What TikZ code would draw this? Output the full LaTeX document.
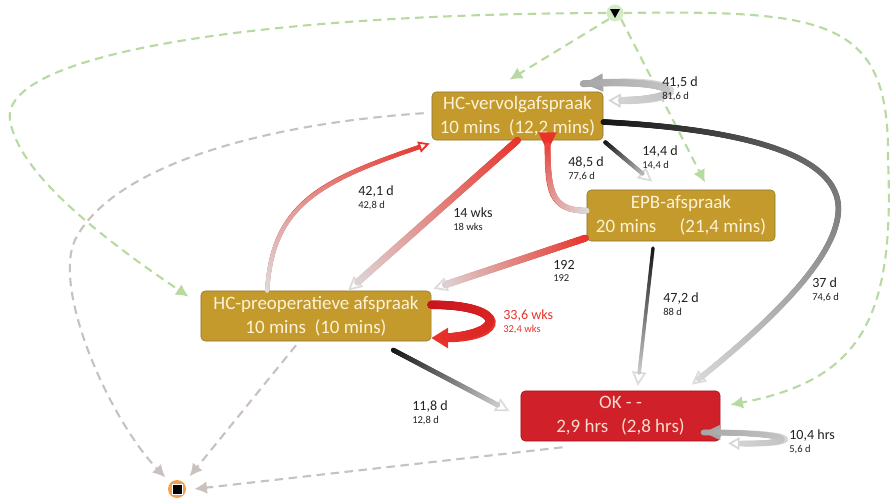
\documentclass[tikz,border=0pt]{standalone}
\usepackage{fontspec}
\setmainfont{Carlito}
\usetikzlibrary{arrows.meta,decorations.markings}
\definecolor{actgold}{HTML}{C39A2B}
\definecolor{actedge}{HTML}{8E7638}
\definecolor{acttext}{HTML}{FCF2D6}
\definecolor{okred}{HTML}{D0202A}
\definecolor{okedge}{HTML}{A0161C}
\definecolor{oktext}{HTML}{F9DCCB}
\definecolor{startgreen}{HTML}{B7DAA0}
\definecolor{startfill}{HTML}{D3EAC6}
\definecolor{endorange}{HTML}{F2A04E}
\definecolor{exitgray}{HTML}{C9C1BD}
\definecolor{flowred}{HTML}{E8332B}
\definecolor{deepred}{HTML}{C8141C}
\definecolor{flowlight}{HTML}{DCDCDC}
\definecolor{flowdark}{HTML}{151515}
\definecolor{loopdark}{HTML}{A6A6A6}
\definecolor{looplight}{HTML}{D6D6D6}
\definecolor{labelink}{HTML}{222222}
\newcommand{\flowsub}[1]{{\fontsize{7.5}{9}\selectfont #1}}
\tikzset{
  activity/.style={draw=actedge, fill=actgold, rounded corners=3pt, text=acttext,
    align=center, inner sep=0pt, font=\fontsize{13.5}{17}\selectfont},
  flow/.style n args={3}{line width=#1, draw=#3,
    postaction={decorate, decoration={markings,
      mark=between positions 0 and -9pt step 0.5pt with {
        \pgfmathsetmacro{\mixpct}{100*(1-(\pgfkeysvalueof{/pgf/decoration/mark info/distance from start})/(\pgfdecoratedpathlength))}
        \fill[#2!\mixpct!#3] (0,0) circle (#1/2);}}}},
  opentip/.style={-{Triangle[open, length=10pt, width=10pt, line width=1.3pt]}},
  startflow/.style={draw=startgreen, line width=1.5pt, dash pattern=on 6pt off 4pt,
    -{Latex[length=9pt, width=9pt]}},
  exitflow/.style={draw=exitgray, line width=1.5pt, dash pattern=on 6pt off 4pt,
    -{Latex[length=9pt, width=9pt]}},
  flowlabel/.style={anchor=west, align=left, inner sep=0pt, text=labelink,
    font=\fontsize{10}{10}\selectfont}
}
\begin{document}
\begin{tikzpicture}[x=0.025cm, y=-0.025cm]
  \useasboundingbox (0,0) rectangle (896,500);

  % activities
  \node[activity, minimum width=4.275cm, minimum height=1.2cm] (vv) at (517.5,116) {HC-vervolgafspraak\\10 mins\ \ (12,2 mins)};
  \node[activity, minimum width=4.7cm, minimum height=1.275cm] (epb) at (681,215.5) {EPB-afspraak\\20 mins\quad\ (21,4 mins)};
  \node[activity, minimum width=5.75cm, minimum height=1.25cm] (pre) at (316,316) {HC-preoperatieve afspraak\\10 mins\ \ (10 mins)};
  \node[activity, draw=okedge, fill=okred, text=oktext, minimum width=4.975cm, minimum height=1.25cm] (ok) at (620.5,416) {OK - -\\2,9 hrs\ \ \ (2,8 hrs)};

  % start and end
  \node[circle, fill=startfill, minimum size=0.42cm, inner sep=0pt] (startpt) at (615,13) {};
  \fill[black] ([shift={(-5,-4)}]startpt.center) -- ([shift={(5,-4)}]startpt.center) -- ([shift={(0,5)}]startpt.center) -- cycle;
  \node[circle, fill=endorange, minimum size=0.45cm, inner sep=0pt] (endpt) at (177,489) {};
  \fill[white] ([shift={(-5.5,-5.5)}]endpt.center) rectangle ([shift={(5.5,5.5)}]endpt.center);
  \fill[black] ([shift={(-4.5,-4.5)}]endpt.center) rectangle ([shift={(4.5,4.5)}]endpt.center);

  % dashed start and end flows
  \draw[startflow] (startpt.south west) -- ([xshift=-0.2cm,yshift=0.3cm]vv.north);
  \draw[startflow] (startpt.south east) -- ([xshift=0.6cm,yshift=0.18cm]epb.north);
  \draw[startflow] (startpt.west) .. controls (250,14) and (0,55) .. (10,120) .. controls (18,170) and (90,230) .. ([xshift=-0.3cm,yshift=-0.15cm]pre.north west);
  \draw[startflow] (startpt.east) .. controls (830,10) and (890,20) .. (888,160) .. controls (895,320) and (860,380) .. ([xshift=0.25cm,yshift=0.28cm]ok.east);
  \draw[exitflow] ([xshift=-0.2cm,yshift=0.07cm]vv.west) .. controls (250,125) and (110,170) .. (75,240) .. controls (52,290) and (110,420) .. ([shift={(-5,-5)}]endpt.north west);
  \draw[exitflow] ([xshift=-0.5cm,yshift=-0.1cm]pre.south) -- ([shift={(6,-6)}]endpt.north east);
  \draw[exitflow] ([xshift=-1.45cm,yshift=-0.15cm]ok.south) -- ([xshift=0.2cm]endpt.east);

  % flows between activities
  \draw[flow={5pt}{flowred}{flowlight}, opentip] (vv.south) -- ([xshift=0.8cm]pre.north);
  \draw[flow={3pt}{flowlight}{flowred}, -{Triangle[open, length=8pt, width=8pt, line width=1.3pt]}] ([xshift=-1.22cm]pre.north) .. controls +(5,-86) and +(-110,37) .. ([xshift=-0.05cm,yshift=-0.08cm]vv.south west);
  \draw[flow={4pt}{flowlight}{flowred}, -{Triangle[reversed, length=14pt, width=12pt]}] ([yshift=0.12cm]epb.west) .. controls +(-37,0) and +(0,58) .. ([xshift=0.75cm,yshift=0.2cm]vv.south);
  \draw[flow={3pt}{flowdark}{flowlight}, opentip] ([xshift=0.05cm,yshift=-0.05cm]vv.south east) -- ([xshift=-0.72cm,yshift=0.2cm]epb.north);
  \draw[flow={4pt}{flowdark}{flowlight}, opentip] ([yshift=-0.15cm]vv.east) .. controls (760,130) and (845,160) .. (838,215) .. controls (832,265) and (760,330) .. ([xshift=1.78cm,yshift=0.15cm]ok.north);
  \draw[flow={5pt}{flowred}{flowlight}, opentip] ([xshift=-0.03cm,yshift=0.08cm]epb.south west) -- ([xshift=0.05cm,yshift=0.05cm]pre.north east);
  \draw[flow={2.5pt}{flowdark}{flowlight}, opentip] ([xshift=-0.7cm,yshift=-0.17cm]epb.south) -- ([xshift=0.43cm,yshift=0.12cm]ok.north);
  \draw[flow={3.5pt}{flowdark}{flowlight}, opentip] ([xshift=-0.95cm,yshift=-0.22cm]pre.south east) -- ([xshift=-0.28cm,yshift=0.12cm]ok.west);

  % self loops
  \draw[flow={5pt}{loopdark}{looplight}, {Triangle[length=14pt, width=12pt, color=loopdark]}-{Triangle[open, length=9pt, width=10pt, line width=1.3pt]}] ([xshift=-0.5cm,yshift=0.2cm]vv.north east) .. controls +(107,-6) and +(82,1) .. ([xshift=0.12cm,yshift=-0.22cm]vv.north east);
  \draw[flow={6pt}{deepred}{flowred}, -{Triangle[length=12pt, width=14pt]}] ([yshift=0.28cm]pre.east) .. controls +(80,0) and +(75,0) .. ([yshift=-0.55cm]pre.east);
  \draw[flow={4pt}{loopdark}{looplight}, {Triangle[length=12pt, width=10pt, color=loopdark]}-{Triangle[open, length=8pt, width=9pt, line width=1.2pt]}] ([xshift=-0.42cm,yshift=0.22cm]ok.south east) .. controls +(100,0) and +(75,2) .. ([xshift=0.2cm,yshift=-0.05cm]ok.south east);

  % flow labels
  \node[flowlabel] (lvvloop) at (662,89) {41,5 d\\[-1pt]\flowsub{81,6 d}};
  \node[flowlabel] (lvvepb) at (642,158) {14,4 d\\[-1pt]\flowsub{14,4 d}};
  \node[flowlabel] (lepbvv) at (568,169) {48,5 d\\[-1pt]\flowsub{77,6 d}};
  \node[flowlabel] (lvvpre) at (453,219) {14 wks\\[-1pt]\flowsub{18 wks}};
  \node[flowlabel] (lepbpre) at (553,271) {192\\[-1pt]\flowsub{192}};
  \node[flowlabel] (lprevv) at (358,198) {42,1 d\\[-1pt]\flowsub{42,8 d}};
  \node[flowlabel] (lepbok) at (663,304) {47,2 d\\[-1pt]\flowsub{88 d}};
  \node[flowlabel] (lvvok) at (812,290) {37 d\\[-1pt]\flowsub{74,6 d}};
  \node[flowlabel, text=flowred] (lpreloop) at (503,322) {33,6 wks\\[-1pt]\flowsub{32,4 wks}};
  \node[flowlabel] (lpreok) at (412,413) {11,8 d\\[-1pt]\flowsub{12,8 d}};
  \node[flowlabel] (lokloop) at (789,442) {10,4 hrs\\[-1pt]\flowsub{5,6 d}};
\end{tikzpicture}
\end{document}
